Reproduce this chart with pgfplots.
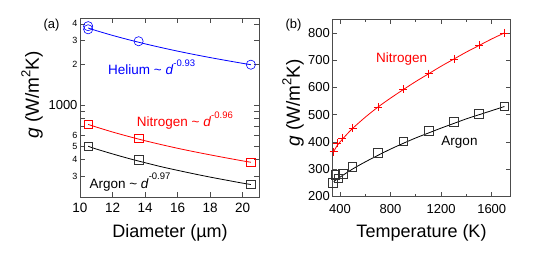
\documentclass[border=0pt]{standalone}
\usepackage{fontspec}
\setmainfont{Liberation Sans}
\usepackage{pgfplots}
\pgfplotsset{compat=1.18}
\newcommand{\sm}{\fontsize{9}{9}\selectfont}
\definecolor{frame}{gray}{0.3}
\pgfplotsset{
  myframe/.style={
    scale only axis,
    tick align=inside, xtick pos=both, ytick pos=both,
    major tick length=5pt, minor tick length=3pt,
    axis line style={frame, line width=0.8pt},
    every tick/.style={frame, line width=0.8pt},
    /pgf/number format/assume math mode=true,
    /pgf/number format/1000 sep={},
    xticklabel style={font=\fontsize{13.5}{14}\selectfont, yshift=-2pt},
    yticklabel style={font=\fontsize{13}{14}\selectfont, xshift=1pt},
  }
}
\begin{document}
\begin{tikzpicture}[x=1pt,y=1pt]
\path[use as bounding box] (0,0) rectangle (546,255);
% ---------------- panel (a)
\begin{axis}[myframe,
  at={(80pt,57.7pt)}, anchor=south west,
  width=179pt, height=179pt,
  xmin=10, xmax=21, ymin=210, ymax=4400, ymode=log,
  xtick={10,12,14,16,18,20},
  ytick={300,400,500,600,700,800,900,1000,2000,3000,4000},
  yticklabels={\sm 3,\sm 4,\sm 5,\sm 6,,,,1000,\sm 2,\sm 3,\sm 4},
]
% Helium
\addplot[blue, line width=0.8pt, smooth, no markers] coordinates {
(10.5,3730) (11,3568) (12,3290) (13,3055) (14,2851) (15,2674) (16,2518)
(17,2380) (18,2257) (19,2147) (20,2046) (20.5,2000)};
\addplot[blue, only marks, mark=o, mark size=4.6pt, mark options={line width=0.6pt}] coordinates {
(10.5,3850) (10.5,3650) (13.6,2980) (20.5,2000)};
% Nitrogen
\addplot[red, line width=0.8pt, smooth, no markers] coordinates {
(10.5,725) (11,693) (12,637) (13,590) (14,549) (15,514) (16,483)
(17,456) (18,432) (19,410) (20,390) (20.5,381)};
\addplot[red, only marks, mark=square, mark size=4.3pt, mark options={line width=0.6pt}] coordinates {
(10.5,725) (13.6,572) (20.5,381)};
% Argon
\addplot[black, line width=0.8pt, smooth, no markers] coordinates {
(10.5,500) (11,477) (12,439) (13,406) (14,378) (15,353) (16,332)
(17,313) (18,296) (19,281) (20,267) (20.5,261)};
\addplot[black!80, only marks, mark=square, mark size=4.3pt, mark options={line width=0.6pt}] coordinates {
(10.5,500) (13.6,397) (20.5,262)};
\end{axis}
% ---------------- panel (b)
\begin{axis}[myframe,
  at={(332.3pt,58.5pt)}, anchor=south west,
  width=178.4pt, height=177.2pt,
  xmin=339, xmax=1750, ymin=200, ymax=850,
  xtick={400,800,1200,1600}, minor xtick={600,1000,1400},
  ytick={200,300,400,500,600,700,800},
  xticklabel style={font=\fontsize{13}{14}\selectfont, yshift=-2pt},
]
% Nitrogen
\addplot[red, line width=0.8pt, smooth, no markers] coordinates {
(350,365) (375,385) (400,400) (450,426) (500,450) (600,491) (700,528) (800,561)
(900,592) (1000,622) (1100,650) (1200,678) (1300,704) (1400,730) (1500,754)
(1600,778) (1700,800)};
\addplot[red, only marks, mark=+, mark size=4pt, mark options={line width=0.6pt}] coordinates {
(350,365) (378,395) (415,415) (500,452) (700,528) (900,593) (1100,651)
(1300,705) (1500,755) (1700,800)};
% Argon
\addplot[black, line width=0.8pt, smooth, no markers] coordinates {
(350,255) (400,271) (500,301) (600,327) (700,351) (800,374) (900,395)
(1000,415) (1100,433) (1200,451) (1300,468) (1400,485) (1500,500)
(1600,515) (1700,530)};
\addplot[black!80, only marks, mark=square, mark size=4.3pt, mark options={line width=0.6pt}] coordinates {
(345,250) (362,280) (385,267) (421,284) (497,308) (700,360) (900,403)
(1100,440) (1300,474) (1500,503) (1700,531)};
\end{axis}
% ---------------- texts
\node[font=\fontsize{13}{14}\selectfont] at (51.5,230) {(a)};
\node[font=\fontsize{13}{14}\selectfont] at (293.5,230) {(b)};
\node[anchor=base west, text=blue, font=\fontsize{13.5}{14}\selectfont, inner sep=0pt]
  at (108,180.2) {Helium \textasciitilde{} \textit{d}\raisebox{1.15ex}{\fontsize{9.5}{10}\selectfont -0.93}};
\node[anchor=base west, text=red, font=\fontsize{13.5}{14}\selectfont, inner sep=0pt]
  at (136.7,128.5) {Nitrogen \textasciitilde{} \textit{d}\raisebox{1.15ex}{\fontsize{9.5}{10}\selectfont -0.96}};
\node[anchor=base west, text=black, font=\fontsize{13.5}{14}\selectfont, inner sep=0pt]
  at (89.3,67) {Argon \textasciitilde{} \textit{d}\raisebox{1.15ex}{\fontsize{9.5}{10}\selectfont -0.97}};
\node[text=red, font=\fontsize{13.5}{14}\selectfont] at (401.7,195.7) {Nitrogen};
\node[text=black, font=\fontsize{13.5}{14}\selectfont] at (459.5,112.7) {Argon};
% axis labels
\node[font=\fontsize{18}{20}\selectfont] at (170,22) {Diameter (µm)};
\node[font=\fontsize{18}{20}\selectfont] at (421.5,22) {Temperature (K)};
\node[rotate=90, font=\fontsize{19}{20}\selectfont] at (32,160)
  {\textit{g} (W/m\raisebox{0.85ex}{\fontsize{13}{13}\selectfont 2}K)};
\node[rotate=90, font=\fontsize{19}{20}\selectfont] at (293,152)
  {\textit{g} (W/m\raisebox{0.85ex}{\fontsize{13}{13}\selectfont 2}K)};
\end{tikzpicture}
\end{document}
